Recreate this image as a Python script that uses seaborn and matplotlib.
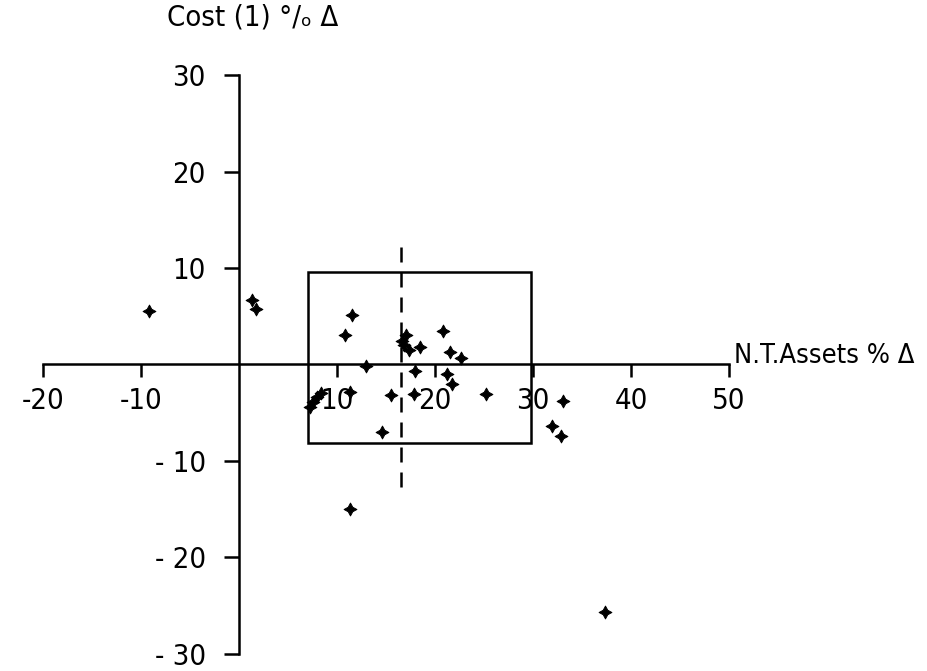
import matplotlib
matplotlib.use("Agg")
import matplotlib.pyplot as plt
import matplotlib.patches as patches
import seaborn as sns
import pandas as pd

# data
assets_pct = [-9.2, 1.3, 1.75, 11.5, 10.85, 13.0,
              17.0, 16.6, 16.8, 17.3, 18.5,
              20.8, 21.5, 22.6, 18.0, 21.2, 21.7, 25.2, 17.8, 15.5, 11.3,
              7.2, 7.5, 7.9, 8.4,
              14.6, 11.3, 33.1, 31.9, 32.8, 37.3]
cost_pct = [5.5, 6.7, 5.8, 5.1, 3.1, -0.2,
            3.0, 2.4, 2.0, 1.5, 1.8,
            3.5, 1.3, 0.7, -0.65, -1.0, -2.0, -3.1, -3.1, -3.2, -2.9,
            -4.4, -3.9, -3.4, -3.0,
            -7.0, -15.0, -3.8, -6.4, -7.4, -25.7]

x_ticks = [-20, -10, 10, 20, 30, 40, 50]
x_tick_labels = ["-20", "-10", "10", "20", "30", "40", "50"]
y_ticks = [-30, -20, -10, 10, 20, 30]
y_tick_labels = ["- 30", "- 20", "- 10", "10", "20", "30"]

box_x = (7.0, 29.8)
box_y = (-8.1, 9.6)
median_x = 16.5
median_span = (-12.7, 13.0)

df = pd.DataFrame({"assets": assets_pct, "cost": cost_pct})

sns.set_style("white")
plt.rcParams["font.family"] = ["DejaVu Sans"]
plt.rcParams["font.stretch"] = "condensed"
plt.rcParams["text.color"] = "black"
plt.rcParams["xtick.color"] = "black"
plt.rcParams["ytick.color"] = "black"

fig = plt.figure(figsize=(9.27, 6.71), dpi=100)
ax = fig.add_axes([0, 0, 1, 1])
ax.set_xlim(-24.4, 70.2)
ax.set_ylim(-31.8, 37.8)

sns.scatterplot(data=df, x="assets", y="cost", marker=(4, 1, 0), s=85,
                color="black", edgecolor="black", linewidth=0.7, ax=ax, zorder=5)

# box and dashed median line
ax.add_patch(patches.Rectangle((box_x[0], box_y[0]), box_x[1] - box_x[0],
                               box_y[1] - box_y[0], fill=False,
                               edgecolor="black", linewidth=1.8, zorder=3))
ax.plot([median_x, median_x], median_span, color="black", linewidth=1.8,
        linestyle=(0, (6, 4)), zorder=3)

# axes crossing at zero
for side in ["top", "right"]:
    ax.spines[side].set_visible(False)
ax.spines["left"].set_position(("data", 0))
ax.spines["bottom"].set_position(("data", 0))
ax.spines["left"].set_bounds(-30, 30)
ax.spines["bottom"].set_bounds(-20, 50)
for side in ["left", "bottom"]:
    ax.spines[side].set_linewidth(1.8)
    ax.spines[side].set_color("black")

ax.set_xticks(x_ticks)
ax.set_xticklabels(x_tick_labels)
ax.set_yticks(y_ticks)
ax.set_yticklabels(y_tick_labels)
ax.tick_params(axis="x", bottom=True, direction="out", length=9, width=1.8,
               pad=7, labelsize=21, color="black", labelcolor="black")
ax.tick_params(axis="y", left=True, direction="out", length=11, width=1.8,
               pad=13, labelsize=21, color="black", labelcolor="black")
ax.set_xlabel("")
ax.set_ylabel("")

ax.text(50.5, 0.9, "N.T.Assets % Δ", fontsize=19.5, ha="left", va="center")
ax.text(-7.4, 36.0, "Cost (1) °/ₒ Δ", fontsize=21, ha="left", va="center")

fig.savefig("out.png", dpi=100)
